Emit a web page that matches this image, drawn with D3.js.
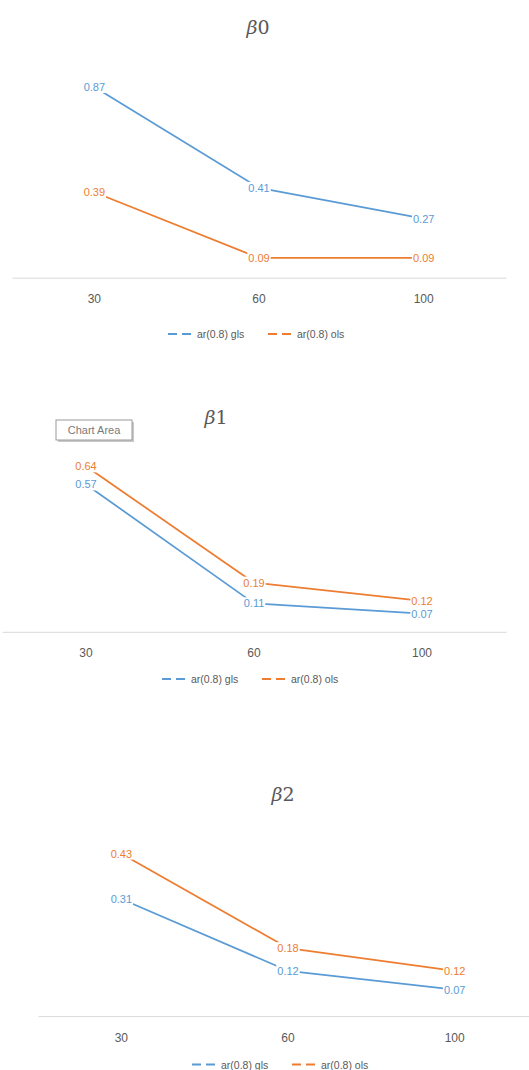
<!DOCTYPE html>
<html>
<head>
<meta charset="utf-8">
<script src="https://cdn.jsdelivr.net/npm/d3@7"></script>
<style>
  html, body { margin: 0; padding: 0; background: #ffffff; }
  svg { display: block; }
</style>
</head>
<body>
<svg id="chart" width="529" height="1070"></svg>
<script>
// Sample sizes on the x axis
const categories = ["30", "60", "100"];
const seriesNames = ["ar(0.8) gls", "ar(0.8) ols"];
const titleSymbol = "β";
const titleIndices = ["0", "1", "2"];

// Values per coefficient, one array per estimator
const beta0Gls = [0.87, 0.41, 0.27];
const beta0Ols = [0.39, 0.09, 0.09];
const beta1Gls = [0.57, 0.11, 0.07];
const beta1Ols = [0.64, 0.19, 0.12];
const beta2Gls = [0.31, 0.12, 0.07];
const beta2Ols = [0.43, 0.18, 0.12];

// Upper bound of each value axis
const axisMax = [1.0, 0.7, 0.5];

const colors = ["#5b9bd5", "#ed7d31"];
const textGray = "#595959";
const fontFamily = "'Liberation Sans', Arial, sans-serif";

// Placement of the three stacked panels
const panels = [
  { index: titleIndices[0], gls: beta0Gls, ols: beta0Ols, max: axisMax[0],
    left: 12, right: 506, bottom: 277.7, top: 58.5,
    titleX: 258, titleY: 27, legendX: 168, legendY: 334 },
  { index: titleIndices[1], gls: beta1Gls, ols: beta1Ols, max: axisMax[1],
    left: 2, right: 506, bottom: 631.8, top: 450.8,
    titleX: 216, titleY: 417, legendX: 162, legendY: 679 },
  { index: titleIndices[2], gls: beta2Gls, ols: beta2Ols, max: axisMax[2],
    left: 38, right: 538, bottom: 1016.1, top: 827.2,
    titleX: 283, titleY: 794, legendX: 192, legendY: 1064.6 }
];

const svg = d3.select("#chart");

panels.forEach((p, pi) => {
  const g = svg.append("g");

  const x = d3.scaleBand().domain(categories).range([p.left, p.right]);
  const cx = c => x(c) + x.bandwidth() / 2;
  const y = d3.scaleLinear().domain([0, p.max]).range([p.bottom, p.top]);

  // Title: italic beta with an upright index
  const title = g.append("text")
    .attr("x", p.titleX)
    .attr("y", p.titleY)
    .attr("text-anchor", "middle")
    .attr("dominant-baseline", "central")
    .attr("font-family", "'DejaVu Serif', 'Liberation Serif', serif")
    .attr("font-size", 19)
    .attr("fill", textGray);
  title.append("tspan").attr("font-style", "italic").text(titleSymbol);
  title.append("tspan").attr("font-style", "normal").text(p.index);

  // Category axis
  const axis = g.append("g")
    .attr("transform", `translate(0,${p.bottom})`)
    .call(d3.axisBottom(x).tickSizeInner(0).tickSizeOuter(0).tickPadding(17));
  axis.select(".domain").attr("stroke", "#d9d9d9").attr("stroke-width", 1);
  axis.selectAll(".tick text")
    .attr("font-family", fontFamily)
    .attr("font-size", 12)
    .attr("fill", textGray);

  const series = [p.gls, p.ols];
  const line = d3.line()
    .x((d, i) => cx(categories[i]))
    .y(d => y(d));

  series.forEach((vals, si) => {
    g.append("path")
      .datum(vals)
      .attr("fill", "none")
      .attr("stroke", colors[si])
      .attr("stroke-width", 1.75)
      .attr("stroke-linejoin", "round")
      .attr("d", line);
  });

  // Data labels centred on each point, on a white backing
  series.forEach((vals, si) => {
    vals.forEach((v, i) => {
      const lx = cx(categories[i]);
      const ly = y(v);
      const lg = g.append("g").attr("transform", `translate(${lx},${ly})`);
      const t = lg.append("text")
        .attr("text-anchor", "middle")
        .attr("dominant-baseline", "central")
        .attr("font-family", fontFamily)
        .attr("font-size", 11)
        .attr("fill", colors[si])
        .text(v.toFixed(2));
      const bb = t.node().getBBox();
      lg.insert("rect", "text")
        .attr("x", bb.x - 1)
        .attr("y", bb.y)
        .attr("width", bb.width + 2)
        .attr("height", bb.height)
        .attr("fill", "#ffffff");
    });
  });

  // Legend
  seriesNames.forEach((name, si) => {
    const lx = p.legendX + si * 100;
    g.append("line")
      .attr("x1", lx).attr("x2", lx + 27)
      .attr("y1", p.legendY).attr("y2", p.legendY)
      .attr("stroke", colors[si])
      .attr("stroke-width", 2)
      .attr("stroke-dasharray", "9,5");
    g.append("text")
      .attr("x", lx + 29)
      .attr("y", p.legendY)
      .attr("dominant-baseline", "central")
      .attr("font-family", fontFamily)
      .attr("font-size", 10.5)
      .attr("fill", textGray)
      .text(name);
  });

  // Hover tooltip on the middle chart
  if (pi === 1) {
    const tip = g.append("g").attr("transform", "translate(56,420)");
    tip.append("rect")
      .attr("x", 2).attr("y", 2).attr("width", 76).attr("height", 20)
      .attr("fill", "#c8c8c8");
    tip.append("rect")
      .attr("x", 0).attr("y", 0).attr("width", 76).attr("height", 20)
      .attr("fill", "#ffffff")
      .attr("stroke", "#9a9a9a")
      .attr("stroke-width", 1);
    tip.append("text")
      .attr("x", 38).attr("y", 10)
      .attr("text-anchor", "middle")
      .attr("dominant-baseline", "central")
      .attr("font-family", fontFamily)
      .attr("font-size", 11)
      .attr("fill", "#7a7a7a")
      .text("Chart Area");
  }
});
</script>
</body>
</html>
